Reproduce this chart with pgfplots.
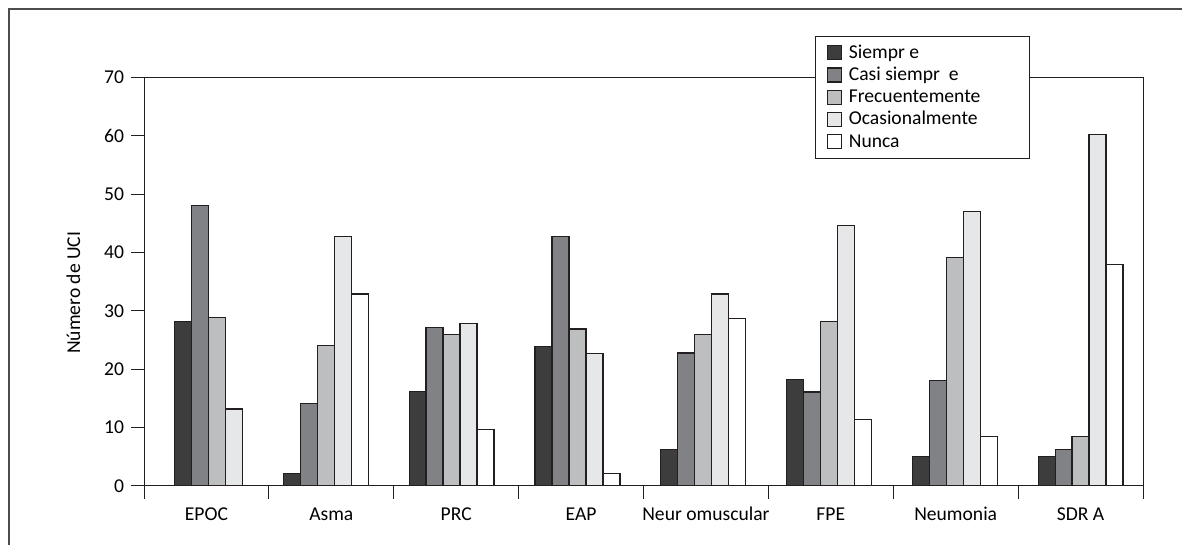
\documentclass[border=0pt]{standalone}
\usepackage{fontspec}
\setmainfont{Carlito}
\usepackage{pgfplots}
\usepackage{pgfplotstable}
\pgfplotsset{compat=1.18}

\definecolor{siempre}{HTML}{3D3D3E}
\definecolor{casi}{HTML}{808285}
\definecolor{frec}{HTML}{BCBEC0}
\definecolor{ocas}{HTML}{E6E7E8}
\definecolor{borde}{HTML}{231F20}

% x = centre of each group of bars (EPOC has only four bars)
\pgfplotstableread{
x     siempre casi frec ocas nunca
0.084 28.2    48.1 28.9 13.2 nan
0.955 2.1     14.2 24.1 42.8 32.9
1.963 16.2    27.2 26.0 27.8 9.7
2.971 23.9    42.8 26.9 22.7 2.1
3.978 6.2     22.8 26.0 32.9 28.7
4.986 18.2    16.1 28.2 44.7 11.4
5.993 5.1     18.1 39.2 47.1 8.5
7.000 5.1     6.3  8.5  60.2 37.9
}\datos

\begin{document}
\begin{tikzpicture}[font=\fontsize{9.8}{12}\selectfont]
\useasboundingbox (0,0) rectangle (591pt,272.5pt);
\draw[black!70, line width=0.75pt] (4.5pt,0) -- (4.5pt,268pt) -- (591pt,268pt);
\begin{axis}[
  at={(72pt,29.5pt)}, anchor=south west,
  scale only axis, width=499.5pt, height=204.2pt,
  ybar=0pt, bar width=0.136,
  xmin=-0.5, xmax=7.5, ymin=0, ymax=70,
  ytick={0,10,...,70},
  xtick={0,...,7},
  xticklabels={EPOC,Asma,PRC,EAP,Neur omuscular,FPE,Neumonia,SDR A},
  minor xtick={-0.5,0.5,...,7.5},
  tick pos=left, tick align=outside,
  major tick length=6.5pt, minor tick length=6.5pt,
  major x tick style={draw=none},
  tick style={borde, line width=0.5pt},
  axis line style={borde, line width=0.5pt},
  /pgf/number format/assume math mode=true,
  xticklabel style={anchor=base, yshift=-11pt},
  ylabel={Número de UCI},
  ylabel style={at={(axis description cs:-0.064,0.473)}, anchor=base},
  every axis plot/.append style={draw=borde, line width=0.6pt},
  legend cell align=left,
  legend image code/.code={\draw[#1,draw=borde,line width=0.6pt] (0pt,-3.5pt) rectangle (7pt,3.5pt);},
  legend style={at={(axis description cs:0.6717,1.1029)}, anchor=north west,
    draw=borde, line width=0.6pt, fill=white, inner xsep=5.8pt, inner ysep=2.8pt,
    nodes={inner sep=1.5pt, text height=6.8pt, text depth=1.3pt},
    /tikz/column sep=1.7pt},
]
\addplot[fill=siempre, bar shift=-0.272] table[x=x, y=siempre] {\datos};
\addplot[fill=casi, bar shift=-0.136] table[x=x, y=casi] {\datos};
\addplot[fill=frec, bar shift=0] table[x=x, y=frec] {\datos};
\addplot[fill=ocas, bar shift=0.136] table[x=x, y=ocas] {\datos};
\addplot[fill=white, bar shift=0.272] table[x=x, y=nunca] {\datos};
\legend{\makebox[83pt][l]{Siempr e},\makebox[83pt][l]{Casi siempr\ \ e},
  \makebox[83pt][l]{Frecuentemente},\makebox[83pt][l]{Ocasionalmente},
  \makebox[83pt][l]{Nunca}}
\end{axis}
\end{tikzpicture}
\end{document}
